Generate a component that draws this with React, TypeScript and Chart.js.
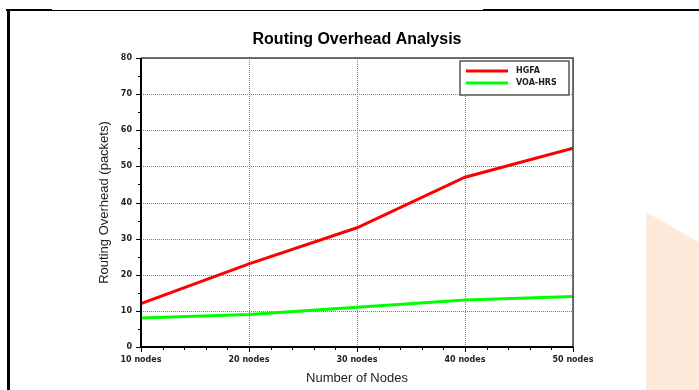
import React, { useEffect, useRef } from 'react';
import { Chart, registerables } from 'chart.js';

Chart.register(...registerables);

const TITLE = 'Routing Overhead Analysis';
const X_TITLE = 'Number of Nodes';
const Y_TITLE = 'Routing Overhead (packets)';
const nodes = [10, 20, 30, 40, 50];
const hgfa = [12, 23, 33, 47, 55];
const voaHrs = [8, 9, 11, 13, 14];
const seriesLabels = ['HGFA', 'VOA-HRS'];
const seriesColors = ['#ff0000', '#00ff00'];
const yTicks = [0, 10, 20, 30, 40, 50, 60, 70, 80];
const xMinorStep = 2;
const yMinorStep = 5;

const TICK_FONT = { family: '"DejaVu Sans"', size: 8, weight: 'bold' as const };

const decorPlugin = {
  id: 'decor',
  beforeDatasetsDraw(chart: any) {
    const { ctx, chartArea: a, scales } = chart;
    const xs = scales.x;
    const ys = scales.y;
    ctx.save();
    ctx.strokeStyle = '#7a7a7a';
    ctx.lineWidth = 1;
    ctx.setLineDash([1, 1]);
    for (const v of nodes) {
      const px = Math.round(xs.getPixelForValue(v)) + 0.5;
      ctx.beginPath();
      ctx.moveTo(px, a.top);
      ctx.lineTo(px, a.bottom);
      ctx.stroke();
    }
    for (const v of yTicks) {
      const py = Math.round(ys.getPixelForValue(v)) + 0.5;
      ctx.beginPath();
      ctx.moveTo(a.left, py);
      ctx.lineTo(a.right, py);
      ctx.stroke();
    }
    ctx.restore();
  },
  afterDraw(chart: any) {
    const { ctx, chartArea: a, scales } = chart;
    const xs = scales.x;
    const ys = scales.y;
    ctx.save();
    ctx.setLineDash([]);
    // top and right frame of plot
    ctx.strokeStyle = '#444';
    ctx.lineWidth = 1.5;
    ctx.beginPath();
    ctx.moveTo(a.left, a.top);
    ctx.lineTo(a.right, a.top);
    ctx.lineTo(a.right, a.bottom);
    ctx.stroke();
    // axes
    ctx.strokeStyle = '#000';
    ctx.lineWidth = 2;
    ctx.beginPath();
    ctx.moveTo(a.left, a.top);
    ctx.lineTo(a.left, a.bottom);
    ctx.lineTo(a.right, a.bottom);
    ctx.stroke();
    // tick marks
    ctx.lineWidth = 1;
    const x0 = nodes[0];
    const x1 = nodes[nodes.length - 1];
    for (let v = x0; v <= x1; v += xMinorStep) {
      const major = nodes.includes(v);
      const px = Math.round(xs.getPixelForValue(v)) + 0.5;
      ctx.beginPath();
      ctx.moveTo(px, a.bottom);
      ctx.lineTo(px, a.bottom + (major ? 5 : 3));
      ctx.stroke();
    }
    const y0 = yTicks[0];
    const y1 = yTicks[yTicks.length - 1];
    for (let v = y0; v <= y1; v += yMinorStep) {
      const major = yTicks.includes(v);
      const py = Math.round(ys.getPixelForValue(v)) + 0.5;
      ctx.beginPath();
      ctx.moveTo(a.left, py);
      ctx.lineTo(a.left - (major ? 5 : 3), py);
      ctx.stroke();
    }
    // title
    ctx.fillStyle = '#000';
    ctx.font = 'bold 16px "Liberation Sans"';
    ctx.textAlign = 'center';
    ctx.textBaseline = 'middle';
    ctx.fillText(TITLE, (a.left + a.right) / 2, 40);
    // legend
    const bw = 109;
    const bh = 34;
    const bx = a.right - 4 - bw;
    const by = a.top + 3;
    ctx.fillStyle = '#fff';
    ctx.fillRect(bx, by, bw, bh);
    ctx.strokeStyle = '#555';
    ctx.lineWidth = 1.5;
    ctx.strokeRect(bx, by, bw, bh);
    ctx.font = 'bold 8px "DejaVu Sans"';
    ctx.textAlign = 'left';
    ctx.textBaseline = 'middle';
    chart.data.datasets.forEach((ds: any, i: number) => {
      const ly = by + 10 + i * 12;
      ctx.strokeStyle = ds.borderColor;
      ctx.lineWidth = 3;
      ctx.beginPath();
      ctx.moveTo(bx + 6, ly);
      ctx.lineTo(bx + 48, ly);
      ctx.stroke();
      ctx.fillStyle = '#222';
      ctx.fillText(ds.label, bx + 56, ly);
    });
    ctx.restore();
  },
};

export default function App() {
  const ref = useRef<HTMLCanvasElement | null>(null);

  useEffect(() => {
    if (!ref.current) return;
    const series = [hgfa, voaHrs];
    const chart = new Chart(ref.current, {
      type: 'line',
      data: {
        datasets: series.map((s, i) => ({
          label: seriesLabels[i],
          data: s.map((v, j) => ({ x: nodes[j], y: v })),
          borderColor: seriesColors[i],
          backgroundColor: seriesColors[i],
          borderWidth: 3,
          pointRadius: 0,
          tension: 0,
          fill: false,
        })),
      },
      options: {
        animation: false,
        responsive: false,
        devicePixelRatio: 1,
        layout: { padding: { top: 58, left: 0, right: 126, bottom: 0 } },
        plugins: {
          legend: { display: false },
          title: { display: false },
          tooltip: { enabled: false },
        },
        scales: {
          x: {
            type: 'linear',
            min: nodes[0],
            max: nodes[nodes.length - 1],
            afterFit: (s: any) => {
              s.height = 43;
            },
            grid: { display: false, drawTicks: false },
            border: { display: false },
            ticks: {
              stepSize: 10,
              padding: 8,
              color: '#222',
              font: TICK_FONT,
              maxRotation: 0,
              callback: (v: any) => `${v} nodes`,
            },
            title: {
              display: true,
              text: X_TITLE,
              color: '#222',
              font: { family: '"Liberation Sans"', size: 13 },
              padding: { top: 0, bottom: 4 },
            },
          },
          y: {
            type: 'linear',
            min: yTicks[0],
            max: yTicks[yTicks.length - 1],
            afterFit: (s: any) => {
              s.width = 141;
            },
            grid: { display: false, drawTicks: false },
            border: { display: false },
            ticks: {
              stepSize: 10,
              padding: 9,
              color: '#222',
              font: TICK_FONT,
            },
            title: {
              display: true,
              text: Y_TITLE,
              color: '#222',
              font: { family: '"Liberation Sans"', size: 13 },
              padding: { top: 97, bottom: 0 },
            },
          },
        },
      },
      plugins: [decorPlugin],
    });
    return () => chart.destroy();
  }, []);

  return (
    <div style={{ position: 'fixed', left: 0, top: 0, width: 699, height: 390, background: '#fff', overflow: 'hidden' }}>
      <div
        style={{
          position: 'absolute',
          left: 646,
          top: 0,
          width: 53,
          height: 390,
          background: '#fdeadb',
          clipPath: 'polygon(0px 212px, 53px 242px, 53px 390px, 0px 390px)',
        }}
      />
      <canvas ref={ref} width={699} height={390} style={{ position: 'absolute', left: 0, top: 0, width: 699, height: 390 }} />
      <div style={{ position: 'absolute', left: 6, top: 9, width: 46, height: 2, background: '#000' }} />
      <div style={{ position: 'absolute', left: 52, top: 9.5, width: 431, height: 1, background: '#000' }} />
      <div style={{ position: 'absolute', left: 483, top: 9, width: 216, height: 2, background: '#000' }} />
      <div style={{ position: 'absolute', left: 7, top: 9, width: 2.5, height: 381, background: '#000' }} />
    </div>
  );
}
